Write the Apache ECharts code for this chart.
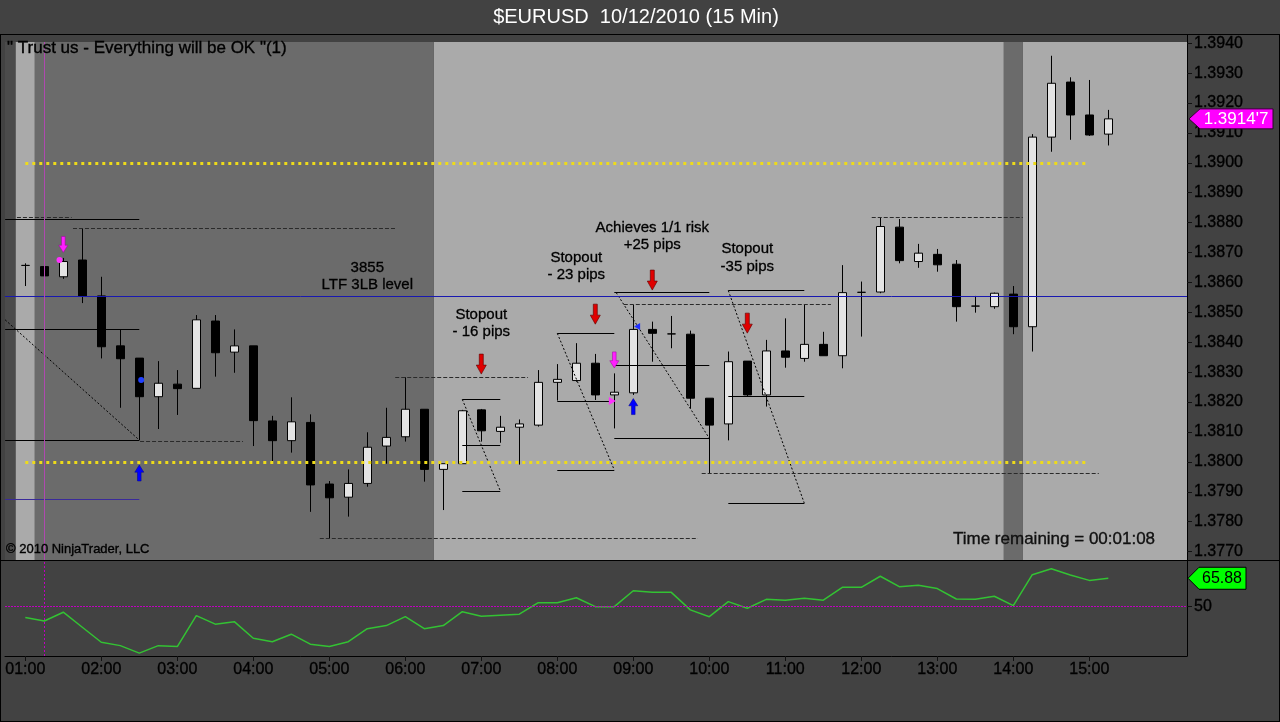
<!DOCTYPE html>
<html><head><meta charset="utf-8">
<script src="https://cdn.jsdelivr.net/npm/echarts@6/dist/echarts.min.js"></script>
<style>html,body{margin:0;padding:0;background:#424242;overflow:hidden}#c{width:1280px;height:722px;background:#424242}</style>
</head><body><div id="c"></div>
<script>
// ---------- data ----------
const hourLabels = ['01:00','02:00','03:00','04:00','05:00','06:00','07:00','08:00','09:00','10:00','11:00','12:00','13:00','14:00','15:00'];
const hourBarIndex = [0,4,8,12,16,20,24,28,32,36,40,44,48,52,56];
const priceTicks = [1.3770,1.3780,1.3790,1.3800,1.3810,1.3820,1.3830,1.3840,1.3850,1.3860,1.3870,1.3880,1.3890,1.3900,1.3910,1.3920,1.3930,1.3940];
const oscTicks = [50];

const opens  = [1.38657,1.38653,1.38619,1.38675,1.38555,1.38388,1.38347,1.38218,1.38260,1.38246,1.38471,1.38367,1.38388,1.38137,1.38071,1.38132,1.37926,1.37882,1.37928,1.38053,1.38084,1.38176,1.37975,1.37994,1.38174,1.38102,1.38116,1.38123,1.38266,1.38272,1.38330,1.38224,1.38231,1.38443,1.38428,1.38427,1.38213,1.38127,1.38337,1.38224,1.38371,1.38346,1.38393,1.38355,1.38567,1.38568,1.38785,1.38670,1.38694,1.38661,1.38521,1.38519,1.38561,1.38452,1.39086,1.39270,1.39160,1.39096];
const closes = [1.38657,1.38622,1.38670,1.38555,1.38385,1.38345,1.38218,1.38263,1.38245,1.38475,1.38365,1.38388,1.38138,1.38071,1.38134,1.37923,1.37880,1.37928,1.38049,1.38082,1.38176,1.37975,1.37994,1.38171,1.38104,1.38116,1.38127,1.38266,1.38276,1.38330,1.38224,1.38233,1.38443,1.38430,1.38428,1.38213,1.38123,1.38335,1.38224,1.38371,1.38350,1.38393,1.38355,1.38566,1.38567,1.38787,1.38673,1.38698,1.38659,1.38519,1.38521,1.38564,1.38452,1.39086,1.39266,1.39160,1.39093,1.39147];
const lows   = [1.38588,1.38542,1.38612,1.38531,1.38346,1.38181,1.38073,1.38110,1.38157,1.38246,1.38285,1.38298,1.38053,1.37994,1.38031,1.37833,1.37744,1.37817,1.37917,1.37994,1.38068,1.37934,1.37839,1.37994,1.38068,1.38064,1.37991,1.38118,1.38205,1.38268,1.38207,1.38112,1.38224,1.38335,1.38380,1.38179,1.37962,1.38072,1.38218,1.38185,1.38315,1.38335,1.38355,1.38313,1.38419,1.38564,1.38664,1.38649,1.38636,1.38469,1.38499,1.38512,1.38427,1.38369,1.39037,1.39077,1.39090,1.39058];
const highs  = [1.38664,1.38689,1.38682,1.38781,1.38619,1.38443,1.38347,1.38337,1.38307,1.38491,1.38491,1.38443,1.38388,1.38154,1.38216,1.38159,1.37936,1.37975,1.38099,1.38181,1.38283,1.38176,1.37994,1.38174,1.38177,1.38154,1.38142,1.38307,1.38327,1.38397,1.38361,1.38296,1.38525,1.38469,1.38488,1.38439,1.38213,1.38369,1.38337,1.38408,1.38480,1.38527,1.38435,1.38658,1.38603,1.38818,1.38812,1.38729,1.38712,1.38675,1.38555,1.38566,1.38588,1.39096,1.39358,1.39286,1.39277,1.39177];

const oscillator = [43.9,42.0,46.9,38.5,30.1,28.2,24.0,28.2,27.7,45.0,40.2,41.6,32.3,30.4,34.6,29.0,27.7,30.4,37.7,39.4,44.4,37.7,39.4,47.2,44.6,45.2,45.8,52.2,52.2,55.0,50.0,50.0,58.9,58.0,58.0,48.2,44.4,52.8,49.1,54.1,53.6,54.7,53.6,60.8,60.8,67.0,61.2,62.0,60.1,54.3,54.1,55.8,50.6,67.9,71.2,67.7,64.7,65.88];

const levelLines = [1.3900, 1.3800];
const levelSpan = [0, 56];
const ltfLevel = 1.38553;
const cursorBar = 1;
const oscMidLevel = 50;

const lightZones = [[-0.5,0.5],[21.5,51.5],[52.5,61.142]];
const darkZones  = [[0.5,21.5],[51.5,52.5]];

const solidSegments = [
  [-1.06,1.38811,6.0,1.38811],[-1.06,1.38443,6.0,1.38443],[-1.06,1.38071,6.0,1.38071],
  [23,1.38209,25,1.38209],[23,1.38057,25,1.38057],[23,1.37903,25,1.37903],
  [28,1.38430,31,1.38430],[28,1.38204,31,1.38204],[28,1.37973,31,1.37973],
  [31,1.38566,36,1.38566],[31,1.38324,36,1.38324],[31,1.38079,36,1.38079],
  [37,1.38573,41,1.38573],[37,1.38218,41,1.38218],[37,1.37862,41,1.37862]
];
const dashedSegments = [
  [-0.44,1.38818,2.44,1.38818],[2.51,1.38781,19.46,1.38781],[6.04,1.38068,11.46,1.38068],
  [19.47,1.38282,26.46,1.38282],[15.5,1.37744,35.4,1.37744],[31.5,1.38527,42.4,1.38527],
  [35.6,1.37962,56.5,1.37962],[44.55,1.38818,52.5,1.38818]
];
const diagonalSegments = [
  [-1.06,1.38475,6.0,1.38073],[23,1.38209,25,1.37903],[28,1.38430,31,1.37973],
  [31.1,1.38566,36,1.38079],[37,1.38573,41,1.37862]
];
const blueSegments = [[-1.06,1.37875,6.0,1.37875]];

const redDownArrows = [[24,1.38327],[30,1.38494],[33,1.38608],[38,1.38464]];
const magentaDownArrows = [[2,1.38727],[31,1.38341]];
const blueUpArrows = [[6,1.37963],[32,1.38185]];
const magentaDots = [[1.8,1.38675]];
const blueDots = [[6.1,1.38274]];
const magentaRightHeads = [[30.9,1.38204]];
const blueLeftHeads = [[32.2,1.38453]];

const notes = [
  [18, 1.38621, '3855\nLTF 3LB level'],
  [24, 1.38464, 'Stopout\n- 16 pips'],
  [29, 1.38654, 'Stopout\n- 23 pips'],
  [33, 1.38754, 'Achieves 1/1 risk\n+25 pips'],
  [38, 1.38683, 'Stopout\n-35 pips']
];

const xMin = -1.068, xMax = 61.142;
const priceMin = 1.37672, priceMax = 1.39404;
const oscMin = 22.4, oscMax = 76.1;

// ---------- chart ----------
const FONT = '"Liberation Sans", Arial, sans-serif';
const TXT = '#000000';
const chart = echarts.init(document.getElementById('c'), null, {renderer:'canvas'});

const candleData = opens.map((o,i)=>[i, o, closes[i], lows[i], highs[i]]);
const segData = arr => arr.map(s => ({coords:[[s[0],s[1]],[s[2],s[3]]]}));
const zoneArea = (zones,color) => zones.map(z => [{xAxis:z[0], itemStyle:{color, opacity:1}}, {xAxis:z[1]}]);
const lastIdx = closes.length - 1;

function fmtPrice(v){ const s = v.toFixed(5); return s.slice(0,6) + "'" + s.slice(6); }

const arrowDown = 'path://M3,0 L7,0 L7,11 L10,11 L5,20 L0,11 L3,11 Z';
const plainText = (x, y, text, fill, size, align, heavy) => ({type:'text', silent:true, z:50,
  style:{x, y, text, fill, font:size + 'px ' + FONT, textAlign:align, textVerticalAlign:'middle',
    stroke: heavy ? fill : null, lineWidth: heavy ? 0.35 : 0}});
const darkLabel = {color:TXT, fontSize:16, fontFamily:FONT, textBorderColor:TXT, textBorderWidth:0.35};

const option = {
  animation:false,
  darkMode:false,
  grid:[
    {left:5, top:42, width:1182, height:518, show:true, backgroundColor:'#4b4b4b', borderWidth:0},
    {left:5, top:560, width:1182, height:96, show:false}
  ],
  xAxis:[
    {type:'value', gridIndex:0, min:xMin, max:xMax, show:false, splitLine:{show:false}},
    {type:'value', gridIndex:1, min:xMin, max:xMax, splitLine:{show:false},
      axisLine:{show:true, onZero:false, lineStyle:{color:'#000', width:1}},
      axisTick:{show:true, customValues:hourBarIndex, length:5, lineStyle:{color:'#111'}},
      axisLabel:Object.assign({show:true, customValues:hourBarIndex, margin:6,
        formatter:v => hourLabels[hourBarIndex.indexOf(Math.round(v))] || ''}, darkLabel)}
  ],
  yAxis:[
    {type:'value', gridIndex:0, position:'right', min:priceMin, max:priceMax, splitLine:{show:false},
      axisLine:{show:true, onZero:false, lineStyle:{color:'#000'}},
      axisTick:{show:true, customValues:priceTicks, length:5, lineStyle:{color:'#111'}},
      axisLabel:Object.assign({show:true, customValues:priceTicks, margin:7, formatter:v => v.toFixed(4)}, darkLabel)},
    {type:'value', gridIndex:1, position:'right', min:oscMin, max:oscMax, splitLine:{show:false},
      axisLine:{show:true, onZero:false, lineStyle:{color:'#000'}},
      axisTick:{show:true, customValues:oscTicks, length:5, lineStyle:{color:'#111'}},
      axisLabel:Object.assign({show:true, customValues:oscTicks, margin:7}, darkLabel)}
  ],
  series:[
    {type:'line', xAxisIndex:0, yAxisIndex:0, data:[], z:0, silent:true,
      markArea:{silent:true, z:0, data: zoneArea(lightZones,'#aaaaaa').concat(zoneArea(darkZones,'#6b6b6b'))}},
    {type:'candlestick', xAxisIndex:0, yAxisIndex:0, z:3, barWidth:9,
      dimensions:['idx','open','close','lowest','highest'],
      encode:{x:'idx', y:['open','close','lowest','highest']},
      data:candleData,
      itemStyle:{color:'#e4e4e4', color0:'#000', borderColor:'#000', borderColor0:'#000', borderWidth:1}},
    {type:'lines', coordinateSystem:'cartesian2d', xAxisIndex:0, yAxisIndex:0, z:4, silent:true,
      data:segData(solidSegments), lineStyle:{color:'#000', width:1, opacity:1}},
    {type:'lines', coordinateSystem:'cartesian2d', xAxisIndex:0, yAxisIndex:0, z:4, silent:true,
      data:segData(dashedSegments), lineStyle:{color:'#2a2a2a', width:1, type:[4,2], opacity:1}},
    {type:'lines', coordinateSystem:'cartesian2d', xAxisIndex:0, yAxisIndex:0, z:4, silent:true,
      data:segData(diagonalSegments), lineStyle:{color:'#000', width:1, type:[2,2], opacity:1}},
    {type:'lines', coordinateSystem:'cartesian2d', xAxisIndex:0, yAxisIndex:0, z:4, silent:true,
      data:segData(blueSegments), lineStyle:{color:'#3a2a9a', width:1, opacity:1}},
    {type:'lines', coordinateSystem:'cartesian2d', xAxisIndex:0, yAxisIndex:0, z:4, silent:true,
      data:levelLines.map(l=>({coords:[[levelSpan[0],l],[levelSpan[1],l]]})),
      lineStyle:{color:'#eedb1a', width:3, type:[3,4], opacity:1}},
    {type:'lines', coordinateSystem:'cartesian2d', xAxisIndex:0, yAxisIndex:0, z:4, silent:true,
      data:[{coords:[[xMin,ltfLevel],[xMax,ltfLevel]]}], lineStyle:{color:'#1818b0', width:1, opacity:1}},
    {type:'lines', coordinateSystem:'cartesian2d', xAxisIndex:0, yAxisIndex:0, z:4, silent:true,
      data:[{coords:[[cursorBar,priceMin],[cursorBar,priceMax]]}], lineStyle:{color:'#b048b0', width:1, opacity:1}},
    {type:'scatter', xAxisIndex:0, yAxisIndex:0, z:6, silent:true, symbol:arrowDown, symbolSize:[10,20],
      data:redDownArrows, itemStyle:{color:'#e00000', borderColor:'#600000', borderWidth:0.6, opacity:1}},
    {type:'scatter', xAxisIndex:0, yAxisIndex:0, z:6, silent:true, symbol:arrowDown, symbolSize:[9,16],
      data:magentaDownArrows, itemStyle:{color:'#ff20ff', borderColor:'#a000a0', borderWidth:0.5, opacity:1}},
    {type:'scatter', xAxisIndex:0, yAxisIndex:0, z:6, silent:true, symbol:arrowDown, symbolRotate:180, symbolSize:[9,16],
      data:blueUpArrows, itemStyle:{color:'#0000ff', borderColor:'#000090', borderWidth:0.5, opacity:1}},
    {type:'scatter', xAxisIndex:0, yAxisIndex:0, z:6, silent:true, symbol:'circle', symbolSize:6,
      data:magentaDots, itemStyle:{color:'#ff30ff', opacity:1}},
    {type:'scatter', xAxisIndex:0, yAxisIndex:0, z:6, silent:true, symbol:'circle', symbolSize:6,
      data:blueDots, itemStyle:{color:'#2040ff', opacity:1}},
    {type:'scatter', xAxisIndex:0, yAxisIndex:0, z:6, silent:true, symbol:'triangle', symbolRotate:-90, symbolSize:[8,7],
      data:magentaRightHeads, itemStyle:{color:'#ff30ff', opacity:1}},
    {type:'scatter', xAxisIndex:0, yAxisIndex:0, z:6, silent:true, symbol:'triangle', symbolRotate:90, symbolSize:[7,6],
      data:blueLeftHeads, itemStyle:{color:'#2030ff', opacity:1}},
    {type:'scatter', xAxisIndex:0, yAxisIndex:0, z:7, silent:true, symbolSize:1,
      itemStyle:{color:'rgba(0,0,0,0)', opacity:1},
      data:notes.map(n=>({value:[n[0],n[1]], name:n[2]})),
      label:{show:true, position:'inside', formatter:p=>p.name, color:'#000000', opacity:1, fontSize:15, lineHeight:17.5,
        fontFamily:FONT, align:'center', verticalAlign:'middle', textBorderWidth:0.3, textBorderColor:'#000000'}},
    {type:'custom', xAxisIndex:0, yAxisIndex:0, z:8, silent:true, clip:false,
      data:[[lastIdx, closes[lastIdx]]],
      renderItem:function(params, api){
        const cs = params.coordSys;
        const y = api.coord([api.value(0), api.value(1)])[1];
        const x0 = cs.x + cs.width + 2;
        return {type:'group', children:[
          {type:'polygon', shape:{points:[[x0,y],[x0+11,y-10],[x0+84,y-10],[x0+84,y+10],[x0+11,y+10]]},
            style:{fill:'#ff00ff', stroke:'#300030', lineWidth:1}},
          {type:'text', style:{x:x0+47, y:y+0.5, text:fmtPrice(api.value(1)), fill:'#ffffff',
            font:'17px ' + FONT, textAlign:'center', textVerticalAlign:'middle'}}
        ]};
      }},
    {type:'line', xAxisIndex:1, yAxisIndex:1, z:3, silent:true, symbol:'none',
      data:oscillator.map((v,i)=>[i,v]), lineStyle:{color:'#33c233', width:1.5},
      markLine:{silent:true, symbol:'none', label:{show:false}, animation:false, precision:4,
        data:[
          {yAxis:oscMidLevel, lineStyle:{color:'#c000c0', width:1, type:[2,1]}},
          {xAxis:cursorBar, lineStyle:{color:'#c000c0', width:1, type:[2,2]}}
        ]}},
    {type:'custom', xAxisIndex:1, yAxisIndex:1, z:8, silent:true, clip:false,
      data:[[lastIdx, oscillator[lastIdx]]],
      renderItem:function(params, api){
        const cs = params.coordSys;
        const y = api.coord([api.value(0), api.value(1)])[1];
        const x0 = cs.x + cs.width + 1;
        return {type:'group', children:[
          {type:'polygon', shape:{points:[[x0,y],[x0+11,y-11],[x0+58,y-11],[x0+58,y+11],[x0+11,y+11]]},
            style:{fill:'#00ff00', stroke:'#000', lineWidth:1}},
          {type:'text', style:{x:x0+34, y:y+0.5, text:api.value(1).toFixed(2), fill:'#000',
            font:'16px ' + FONT, textAlign:'center', textVerticalAlign:'middle'}}
        ]};
      }}
  ],
  graphic:[
    {type:'line', silent:true, z:50, shape:{x1:0,y1:34.5,x2:1280,y2:34.5}, style:{stroke:'#000', lineWidth:1}},
    {type:'line', silent:true, z:50, shape:{x1:0,y1:560.5,x2:1280,y2:560.5}, style:{stroke:'#000', lineWidth:1}},
    {type:'line', silent:true, z:50, shape:{x1:1187.5,y1:34,x2:1187.5,y2:42}, style:{stroke:'#000', lineWidth:1}},
    {type:'line', silent:true, z:50, shape:{x1:0.5,y1:34,x2:0.5,y2:722}, style:{stroke:'#000', lineWidth:1}},
    {type:'line', silent:true, z:50, shape:{x1:1279.5,y1:34,x2:1279.5,y2:722}, style:{stroke:'#000', lineWidth:1}},
    {type:'line', silent:true, z:50, shape:{x1:0,y1:721.5,x2:1280,y2:721.5}, style:{stroke:'#000', lineWidth:1}},
    plainText(636, 17, '$EURUSD  10/12/2010 (15 Min)', '#ffffff', 20, 'center', false),
    plainText(7, 48.5, '" Trust us - Everything will be OK "(1)', TXT, 17, 'left', true),
    plainText(953, 539, 'Time remaining = 00:01:08', '#101010', 17, 'left', true),
    plainText(6, 549, '\u00a9 2010 NinjaTrader, LLC', TXT, 13, 'left', true)
  ]
};
chart.setOption(option);
</script>
</body></html>
